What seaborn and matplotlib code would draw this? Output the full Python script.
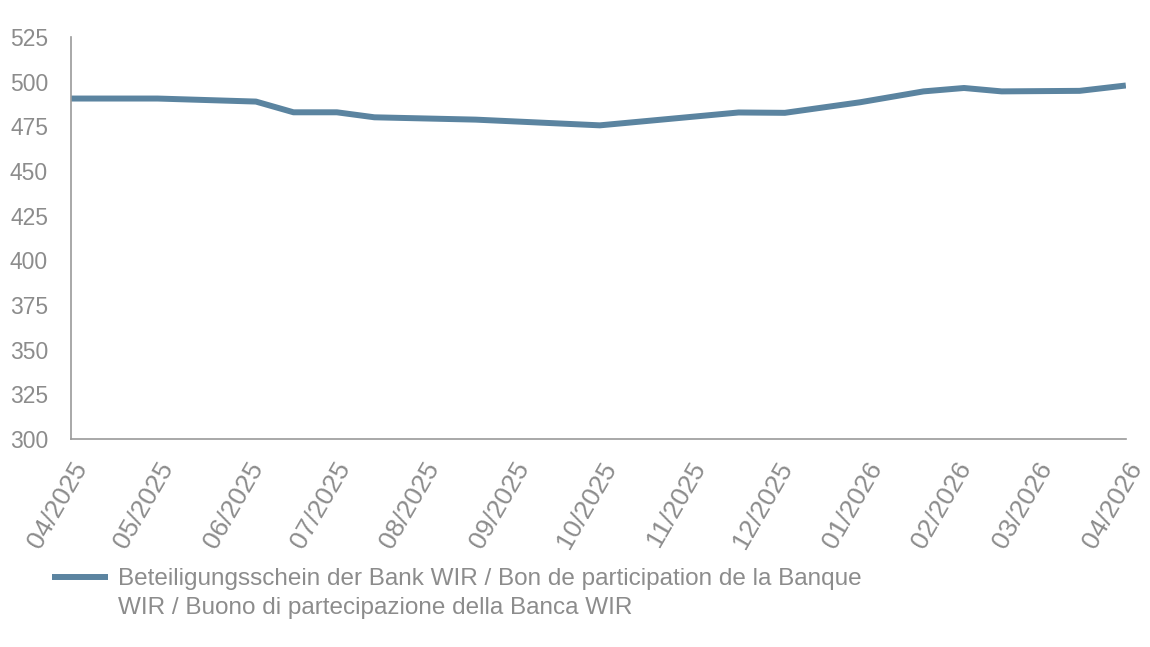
import matplotlib
matplotlib.use("Agg")
import matplotlib.pyplot as plt
import matplotlib.dates as mdates
import pandas as pd
import seaborn as sns

# Kursverlauf
dates = [
    "2025-04-01", "2025-05-01", "2025-06-04", "2025-06-17", "2025-07-02",
    "2025-07-15", "2025-08-19", "2025-10-01", "2025-11-18", "2025-12-04",
    "2025-12-30", "2026-01-21", "2026-02-04", "2026-02-17", "2026-03-16",
    "2026-04-01",
]
values = [
    490.5, 490.5, 488.8, 482.8, 482.8,
    480.0, 478.7, 475.5, 482.7, 482.5,
    488.4, 494.5, 496.4, 494.5, 494.8,
    497.8,
]
# Legendentext, im Original auf zwei Zeilen umbrochen
label_lines = [
    "Beteiligungsschein der Bank WIR / Bon de participation de la Banque",
    "WIR / Buono di partecipazione della Banca WIR",
]
y_ticks = [300, 325, 350, 375, 400, 425, 450, 475, 500, 525]

LINE_COLOR = "#5b84a0"
GREY = "#8c8c8c"
SPINE_GREY = "#9a9a9a"

df = pd.DataFrame({"Datum": pd.to_datetime(dates), "Kurs": values})

sns.set_style("white")
plt.rcParams["font.family"] = ["Liberation Sans", "DejaVu Sans"]

fig = plt.figure(figsize=(11.5, 6.47), dpi=100)
ax = fig.add_axes([0.0617, 0.3215, 0.9173, 0.6215])

sns.lineplot(data=df, x="Datum", y="Kurs", ax=ax, color=LINE_COLOR,
             linewidth=4.3, label=label_lines[0], solid_capstyle="butt")

ax.set_ylim(300, 525)
ax.set_yticks(y_ticks)
ax.set_xlim(pd.Timestamp("2025-04-01"), pd.Timestamp("2026-04-01"))
ax.xaxis.set_major_locator(mdates.MonthLocator())
ax.xaxis.set_major_formatter(mdates.DateFormatter("%m/%Y"))

ax.set_xlabel("")
ax.set_ylabel("")
for side in ["top", "right"]:
    ax.spines[side].set_visible(False)
for side in ["left", "bottom"]:
    ax.spines[side].set_color(SPINE_GREY)
    ax.spines[side].set_linewidth(1.2)

ax.tick_params(axis="both", colors=SPINE_GREY, labelcolor=GREY,
               length=4.5, width=1.2, direction="out")
ax.tick_params(axis="y", labelsize=16.5, pad=12)
ax.tick_params(axis="x", labelsize=19, pad=9)
plt.setp(ax.get_xticklabels(), rotation=60, ha="right", va="top",
         rotation_mode="anchor")

leg = ax.legend(loc="upper left", bbox_to_anchor=(52 / 1150, 1 - 568 / 647),
                bbox_transform=fig.transFigure, frameon=False, fontsize=17.5,
                borderpad=0, borderaxespad=0, handlelength=2.3, handletextpad=0.42)
for text in leg.get_texts():
    text.set_color(GREY)

# zweite Zeile unter den Legendentext setzen
fig.canvas.draw()
bb = leg.get_texts()[0].get_window_extent()
fig.text(bb.x0 / 1150, (bb.y0 - 29) / 647, label_lines[1], color=GREY,
         fontsize=17.5, ha="left", va="bottom")

fig.savefig("out.png", dpi=100)
